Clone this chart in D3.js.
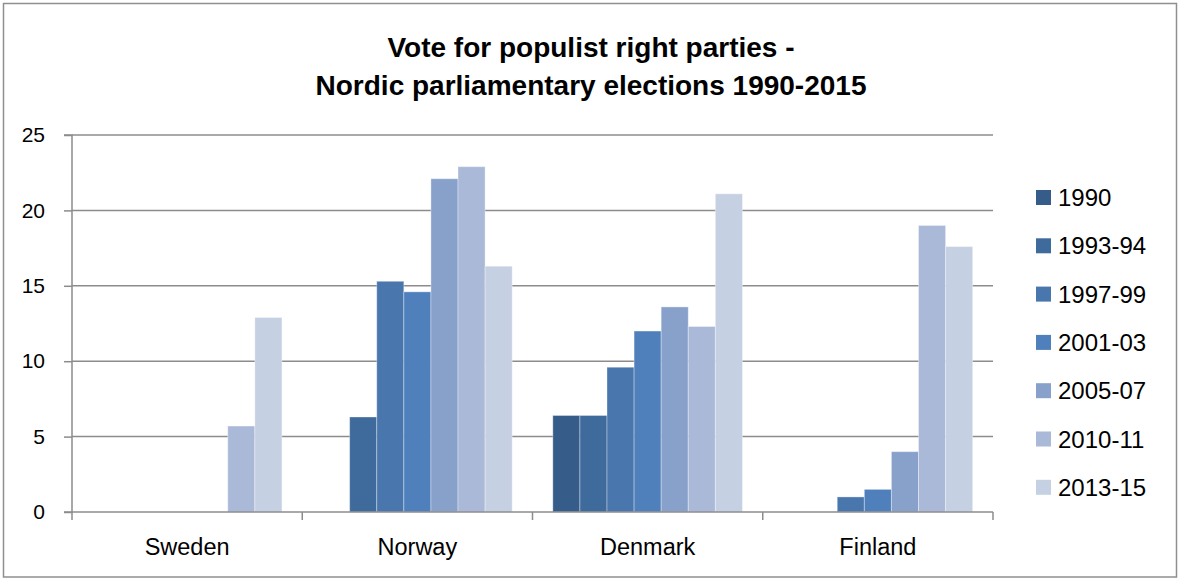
<!DOCTYPE html>
<html>
<head>
<meta charset="utf-8">
<script src="https://cdn.jsdelivr.net/npm/d3@7"></script>
<style>
  html, body { margin: 0; padding: 0; background: #fff; }
  svg { display: block; font-family: "Liberation Sans", Arial, sans-serif; }
</style>
</head>
<body>
<svg id="chart" width="1179" height="579"></svg>
<script>
// Vote share (%) for populist right parties by country and election period
const countries = ["Sweden", "Norway", "Denmark", "Finland"];
const periods = ["1990", "1993-94", "1997-99", "2001-03", "2005-07", "2010-11", "2013-15"];
const sweden  = [0,   0,   0,    0,    0,    5.7,  12.9];
const norway  = [0,   6.3, 15.3, 14.6, 22.1, 22.9, 16.3];
const denmark = [6.4, 6.4, 9.6,  12.0, 13.6, 12.3, 21.1];
const finland = [0,   0,   1.0,  1.5,  4.0,  19.0, 17.6];
const yTicks = [0, 5, 10, 15, 20, 25];
const periodColors = ["#365c89", "#3f6a9c", "#4876ad", "#4f80bc", "#87a1cb", "#aab9d8", "#c5d0e3"];
const titleLines = ["Vote for populist right parties -", "Nordic parliamentary elections 1990-2015"];

const seriesByCountry = { Sweden: sweden, Norway: norway, Denmark: denmark, Finland: finland };

const svg = d3.select("#chart");
const gridColor = "#8c8c8c";

// outer frame
svg.append("rect")
  .attr("x", 3.5).attr("y", 3.5)
  .attr("width", 1173).attr("height", 573.5)
  .attr("fill", "#fff").attr("stroke", "#8f8f8f").attr("stroke-width", 1.5);

// title
svg.append("g").selectAll("text")
  .data(titleLines)
  .join("text")
  .attr("x", 591)
  .attr("y", (d, i) => 57 + i * 38)
  .attr("text-anchor", "middle")
  .attr("font-weight", "bold")
  .attr("font-size", 28)
  .attr("fill", "#000")
  .text(d => d);

const plot = { left: 72, right: 993, top: 135, bottom: 512 };

const x0 = d3.scaleBand().domain(countries).range([plot.left, plot.right]).padding(0);
const x1 = d3.scaleBand().domain(periods).range([0, x0.bandwidth()])
  .paddingInner(0).paddingOuter(0.75);
const y = d3.scaleLinear().domain([0, 25]).range([plot.bottom, plot.top]);
const color = d3.scaleOrdinal().domain(periods).range(periodColors);

// horizontal gridlines
svg.append("g").selectAll("line")
  .data(yTicks.filter(t => t > 0))
  .join("line")
  .attr("x1", plot.left).attr("x2", plot.right)
  .attr("y1", d => y(d)).attr("y2", d => y(d))
  .attr("stroke", gridColor).attr("stroke-width", 1.5);

// bars
const groups = svg.append("g").selectAll("g")
  .data(countries)
  .join("g")
  .attr("transform", c => `translate(${x0(c)},0)`);

groups.selectAll("rect")
  .data(c => periods.map((p, i) => ({ period: p, value: seriesByCountry[c][i] })).filter(d => d.value > 0))
  .join("rect")
  .attr("x", d => x1(d.period))
  .attr("y", d => y(d.value))
  .attr("width", x1.bandwidth())
  .attr("height", d => y(0) - y(d.value))
  .attr("fill", d => color(d.period))
  .attr("stroke", "rgba(255,255,255,0.35)")
  .attr("stroke-width", 1);

// y axis
const yAxis = svg.append("g")
  .attr("transform", `translate(${plot.left},0)`)
  .call(d3.axisLeft(y).tickValues(yTicks).tickSize(8).tickPadding(19).tickFormat(d3.format("d")));
yAxis.selectAll("path, line").attr("stroke", gridColor).attr("stroke-width", 1.5);
yAxis.select(".domain").attr("d", `M-8,${plot.top}H0V${plot.bottom}H-8`);
yAxis.selectAll("text")
  .attr("font-family", "Liberation Sans, Arial, sans-serif")
  .attr("font-size", 21).attr("fill", "#000");

// x axis with category-boundary ticks
const xAxis = svg.append("g")
  .attr("transform", `translate(0,${plot.bottom})`);
xAxis.append("line")
  .attr("x1", plot.left).attr("x2", plot.right)
  .attr("stroke", gridColor).attr("stroke-width", 1.5);
const boundaries = countries.map(c => x0(c)).concat([x0(countries[countries.length - 1]) + x0.bandwidth()]);
xAxis.selectAll("line.tick")
  .data(boundaries)
  .join("line")
  .attr("class", "tick")
  .attr("x1", d => d).attr("x2", d => d)
  .attr("y1", 0).attr("y2", 8)
  .attr("stroke", gridColor).attr("stroke-width", 1.5);
xAxis.selectAll("text")
  .data(countries)
  .join("text")
  .attr("x", c => x0(c) + x0.bandwidth() / 2)
  .attr("y", 43)
  .attr("text-anchor", "middle")
  .attr("font-size", 23.5)
  .attr("fill", "#000")
  .text(c => c);

// legend
const legend = svg.append("g").selectAll("g")
  .data(periods)
  .join("g")
  .attr("transform", (d, i) => `translate(1036,${197.5 + i * 48.3})`);
legend.append("rect")
  .attr("x", 0).attr("y", -7.5)
  .attr("width", 15).attr("height", 15)
  .attr("fill", d => color(d));
legend.append("text")
  .attr("x", 22).attr("y", 8.5)
  .attr("font-size", 24)
  .attr("fill", "#000")
  .text(d => d);
</script>
</body>
</html>
